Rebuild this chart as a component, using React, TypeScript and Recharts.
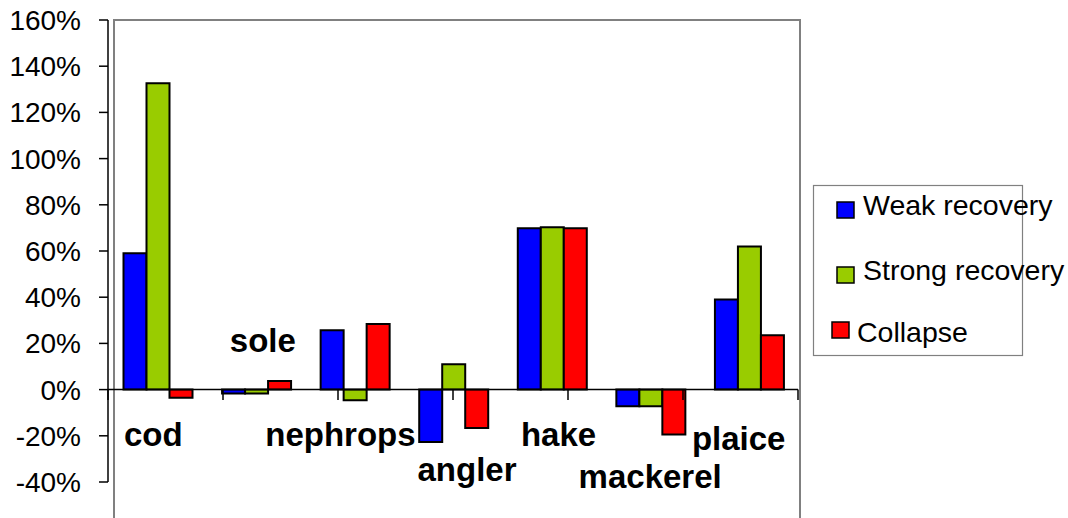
import React from "react";
import {
  BarChart,
  Bar,
  XAxis,
  YAxis,
  Legend,
  ReferenceLine,
  ReferenceDot,
} from "recharts";

const categories = ["cod", "sole", "nephrops", "angler", "hake", "mackerel", "plaice"];
const weakRecovery = [0.59, -0.017, 0.257, -0.227, 0.698, -0.072, 0.39];
const strongRecovery = [1.326, -0.017, -0.046, 0.11, 0.703, -0.072, 0.62];
const collapse = [-0.035, 0.037, 0.284, -0.166, 0.698, -0.194, 0.235];
const yTicks = [-0.4, -0.2, 0, 0.2, 0.4, 0.6, 0.8, 1, 1.2, 1.4, 1.6];

const series = [
  { key: "weak", name: "Weak recovery", color: "#0000ff" },
  { key: "strong", name: "Strong recovery", color: "#99cc00" },
  { key: "collapse", name: "Collapse", color: "#ff0000" },
];

// hand-placed category labels (dx from category centre, dy from the zero line)
const labelOffset: Record<string, [number, number]> = {
  cod: [-4, 56],
  sole: [7, -38],
  nephrops: [-14, 56],
  angler: [14, 91],
  hake: [7, 56],
  mackerel: [0, 98],
  plaice: [-10, 60],
};

const data = categories.map((name, i) => ({
  name,
  weak: weakRecovery[i],
  strong: strongRecovery[i],
  collapse: collapse[i],
}));

const boundaries = [...categories.map((_, i) => i), categories.length];

const FONT = "'Liberation Sans', Arial, sans-serif";

function pct(v: number) {
  return `${Math.round(v * 100)}%`;
}

function LegendBox() {
  const rows = [
    { s: series[0], sq: [24, 17], tx: 50, ty: 30 },
    { s: series[1], sq: [24, 82], tx: 50, ty: 95 },
    { s: series[2], sq: [19, 137], tx: 44, ty: 157 },
  ];
  return (
    <svg width={260} height={172} style={{ overflow: "visible", display: "block" }}>
      <rect x={0.5} y={0.5} width={209} height={170} fill="#fff" stroke="#808080" strokeWidth={1.2} />
      {rows.map((r) => (
        <g key={r.s.key}>
          <rect x={r.sq[0]} y={r.sq[1]} width={17} height={16} fill={r.s.color} stroke="#000" strokeWidth={1.5} />
          <text x={r.tx} y={r.ty} fontSize={28.5} fontFamily={FONT} fill="#000">
            {r.s.name}
          </text>
        </g>
      ))}
    </svg>
  );
}

export default function App() {
  return (
    <div
      style={{
        position: "absolute",
        left: 0,
        top: 0,
        width: 1068,
        height: 518,
        background: "#fff",
        overflow: "hidden",
        fontFamily: FONT,
      }}
    >
      {/* plot area border, runs past the bottom of the picture */}
      <div
        style={{
          position: "absolute",
          left: 113,
          top: 19,
          width: 684,
          height: 560,
          border: "2px solid #808080",
        }}
      />
      <div style={{ position: "absolute", left: 0, top: 0 }}>
        <BarChart
          width={1068}
          height={518}
          data={data}
          margin={{ top: 20, right: 270, bottom: 36, left: 8 }}
          barCategoryGap={15.5}
          barGap={0}
        >
          <XAxis dataKey="name" hide />
          <XAxis xAxisId="b" type="number" domain={[0, categories.length]} allowDataOverflow hide />
          <YAxis
            width={100}
            domain={[-0.4, 1.6]}
            ticks={yTicks}
            tickFormatter={pct}
            interval={0}
            tick={{ fontSize: 28, fill: "#000", fontFamily: FONT }}
            tickSize={9}
            tickMargin={18}
            axisLine={{ stroke: "#000", strokeWidth: 1.5 }}
            tickLine={{ stroke: "#000", strokeWidth: 1.5 }}
          />
          <Legend
            layout="horizontal"
            verticalAlign="middle"
            align="center"
            content={() => <LegendBox />}
            wrapperStyle={{ position: "absolute", left: 813, top: 185, width: 260, height: 172 }}
          />
          {series.map((s) => (
            <Bar
              key={s.key}
              dataKey={s.key}
              name={s.name}
              fill={s.color}
              stroke="#000"
              strokeWidth={2}
              isAnimationActive={false}
            />
          ))}
          <ReferenceLine y={0} stroke="#000" strokeWidth={1.5} />
          {boundaries.map((b) => (
            <ReferenceLine
              key={b}
              xAxisId="b"
              segment={[
                { x: b, y: 0 },
                { x: b, y: -0.045 },
              ]}
              stroke="#000"
              strokeWidth={1.5}
            />
          ))}
          {categories.map((c) => (
            <ReferenceDot
              key={c}
              x={c}
              y={0}
              r={0}
              shape={(p: any) => (
                <text
                  x={p.cx + labelOffset[c][0]}
                  y={p.cy + labelOffset[c][1]}
                  textAnchor="middle"
                  fontSize={33}
                  fontWeight="bold"
                  fontFamily={FONT}
                  fill="#000"
                >
                  {c}
                </text>
              )}
            />
          ))}
        </BarChart>
      </div>
    </div>
  );
}
